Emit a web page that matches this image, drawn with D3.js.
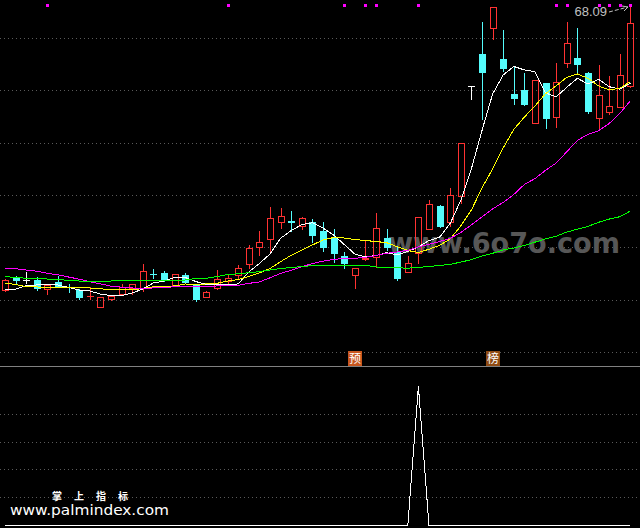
<!DOCTYPE html>
<html><head><meta charset="utf-8">
<script src="https://cdn.jsdelivr.net/npm/d3@7"></script>
<style>html,body{margin:0;padding:0;background:#000;overflow:hidden}</style>
</head><body><svg id="c" width="640" height="528"></svg>
<script>
const opens  = [28.65,30.39,30.09,30.11,28.75,29.70,29.03,28.58,27.85,26.32,27.46,28.09,28.97,28.93,30.88,30.98,29.35,30.70,29.44,27.71,28.89,29.90,30.74,32.23,34.61,35.76,38.18,38.27,37.58,38.20,36.88,35.97,33.39,30.81,32.93,33.25,35.94,33.88,31.20,33.85,37.12,40.37,38.18,41.80,57.15,61.57,65.16,60.87,55.99,56.55,51.99,57.48,52.82,60.27,61.05,58.96,52.60,53.52,54.22,57.11];
const highs  = [30.18,30.60,31.20,30.46,29.35,30.67,29.49,28.72,29.00,27.67,27.95,29.49,29.49,32.28,31.58,31.34,30.88,31.02,29.49,28.51,31.44,30.84,32.14,34.93,36.84,40.23,40.05,39.67,38.87,38.55,38.07,37.12,33.95,31.72,35.48,39.43,37.12,34.69,33.39,38.83,41.20,40.51,42.84,49.16,57.15,65.99,68.06,64.92,59.94,58.96,57.94,57.53,60.36,65.99,65.16,58.99,60.04,58.50,61.57,68.09];
const lows   = [28.51,29.49,29.67,28.58,28.09,29.00,28.41,27.35,27.39,26.28,27.32,28.02,28.09,28.51,30.32,29.97,29.28,29.63,27.16,27.67,28.79,29.35,30.18,31.72,33.60,33.77,37.30,36.88,37.16,35.35,34.13,32.56,31.65,28.89,32.83,31.86,34.23,30.04,31.16,32.46,37.09,37.48,37.58,40.74,55.25,52.46,63.62,59.24,54.60,54.52,51.99,51.29,51.43,59.80,59.10,53.38,51.29,53.16,54.22,56.93];
const closes = [30.04,30.04,30.09,28.86,29.30,29.07,29.02,27.71,27.86,27.63,27.88,29.07,29.44,31.30,30.87,30.04,30.84,29.81,27.35,28.33,30.14,30.39,31.68,34.47,35.39,38.65,38.97,38.07,38.65,36.32,34.65,33.85,32.37,31.68,33.18,37.26,34.69,30.32,32.37,38.79,40.65,37.58,41.90,49.11,57.15,59.10,68.06,59.66,55.48,54.55,57.94,52.68,57.62,63.06,60.18,53.66,55.85,54.32,58.64,65.85];

const ma5  = [28.75,28.75,29.28,29.35,29.35,29.35,29.00,28.65,28.51,28.09,27.85,27.88,28.23,28.79,29.63,29.90,30.42,30.39,29.83,29.42,29.39,29.44,29.49,31.16,32.35,33.67,35.86,36.95,37.76,38.04,37.30,36.32,35.00,33.67,33.25,33.46,33.85,33.53,34.02,34.65,35.55,36.01,37.94,41.16,45.57,50.90,55.99,58.64,59.83,59.34,59.10,56.13,55.61,56.93,58.18,57.39,58.04,57.01,56.65,57.48];
const ma10 = [29.63,29.42,29.11,29.07,29.03,29.03,29.03,29.03,28.93,28.83,28.65,28.65,28.72,28.83,29.11,29.17,29.21,29.49,29.42,29.49,29.58,29.90,30.11,30.53,31.02,31.65,32.60,33.49,34.23,34.93,35.62,35.97,35.90,35.69,35.55,35.41,35.25,34.69,34.16,33.88,34.33,34.89,35.76,37.58,39.81,42.88,45.53,48.47,51.04,52.78,54.32,56.05,57.12,58.32,58.78,58.18,57.11,56.55,56.79,57.71];
const ma20 = [31.68,31.61,31.44,31.26,30.98,30.76,30.46,30.16,29.81,29.50,29.19,29.04,28.93,28.86,28.94,29.04,29.08,29.11,29.11,29.14,29.21,29.21,29.30,29.57,29.78,30.35,30.96,31.40,31.91,32.33,32.67,32.93,33.04,33.07,33.20,33.46,33.77,33.96,34.19,34.65,35.02,35.41,35.86,36.66,37.74,38.83,39.96,40.86,41.97,43.37,44.19,45.35,46.37,47.93,49.53,50.37,50.87,51.88,53.27,55.06];
const ma60 = [30.50,30.42,30.28,30.28,30.18,30.09,30.00,29.90,29.90,29.90,29.90,30.04,30.04,30.04,30.04,30.04,30.04,30.04,30.25,30.28,30.53,30.80,30.91,31.05,31.22,31.43,31.65,31.79,31.91,32.05,32.09,32.09,32.09,32.09,32.09,31.86,31.82,31.75,31.69,31.80,31.93,32.07,32.23,32.54,32.88,33.39,33.77,34.23,34.51,34.87,35.32,35.78,36.15,36.73,37.14,37.52,38.09,38.54,38.87,39.67];

const signalBars = [4,21,32,34,35,39,52,53,56,57,58,59];
const indicator = [0,0,0,0,0,0,0,0,0,0,0,0,0,0,0,0,0,0,0,0,0,0,0,0,0,0,0,0,0,0,0,0,0,0,0,0,0,0,0,5,0,0,0,0,0,0,0,0,0,0,0,0,0,0,0,0,0,0,0,0];
const tagBars = [33,46];
const tagTexts = ["预","榜"];
const priceGrid = [20,27.3,34.6,41.9,49.2,56.5,63.8];
const indGrid = [1,2,3,4];
const watermark = "www.6o7o.com";
const brandCN = "掌上指标";
const brandURL = "www.palmindex.com";

const svg = d3.select("#c");
svg.append("rect").attr("width",640).attr("height",528).attr("fill","#000");

const n = opens.length;
const x = d3.scaleLinear().domain([0, n-1]).range([5, 630.4]);
const y = d3.scaleLinear().domain([20, 63.8]).range([352, 38]);
const yi = d3.scaleLinear().domain([0, 5]).range([525, 386]);
const px = i => Math.round(x(i)) + 0.5;
const py = v => Math.round(y(v));

const RED = "#ff3232", CYAN = "#54fcfc";

// grid
const g = svg.append("g").attr("shape-rendering","crispEdges");
g.selectAll("line.pg").data(priceGrid).join("line").attr("class","pg")
  .attr("x1",0).attr("x2",640).attr("y1",d=>py(d)+0.5).attr("y2",d=>py(d)+0.5)
  .attr("stroke","#5a5a5a").attr("stroke-dasharray","1,3");
g.selectAll("line.ig").data(indGrid).join("line").attr("class","ig")
  .attr("x1",0).attr("x2",640).attr("y1",d=>Math.round(yi(d))+0.5).attr("y2",d=>Math.round(yi(d))+0.5)
  .attr("stroke","#5a5a5a").attr("stroke-dasharray","1,3");
g.append("line").attr("x1",0).attr("x2",640).attr("y1",366.5).attr("y2",366.5).attr("stroke","#808080");

// watermark
svg.append("text").attr("x",388).attr("y",253).attr("font-family","DejaVu Sans").attr("font-weight","bold")
  .attr("font-size",28).attr("fill","#575757").attr("textLength",232).attr("lengthAdjust","spacingAndGlyphs")
  .text(watermark);

// candles
const cg = svg.append("g").attr("shape-rendering","crispEdges");
d3.range(n).forEach(i => {
  const cx = px(i), o = opens[i], c = closes[i];
  const yO = py(o), yC = py(c), yH = py(highs[i]), yL = py(lows[i]);
  const col = c > o ? RED : (c < o ? CYAN : "#ffffff");
  const top = Math.min(yO, yC), bot = Math.max(yO, yC);
  if (bot - top < 1) {
    cg.append("line").attr("x1",cx).attr("x2",cx).attr("y1",yH).attr("y2",yL+1).attr("stroke",col);
    cg.append("line").attr("x1",cx-3.5).attr("x2",cx+3.5).attr("y1",top+0.5).attr("y2",top+0.5).attr("stroke",col);
  } else if (c > o) {
    if (yH < top) cg.append("line").attr("x1",cx).attr("x2",cx).attr("y1",yH).attr("y2",top).attr("stroke",col);
    if (yL > bot) cg.append("line").attr("x1",cx).attr("x2",cx).attr("y1",bot+1).attr("y2",yL+1).attr("stroke",col);
    cg.append("rect").attr("x",cx-3).attr("y",top+0.5).attr("width",6).attr("height",bot-top)
      .attr("fill","none").attr("stroke",col);
  } else {
    cg.append("line").attr("x1",cx).attr("x2",cx).attr("y1",yH).attr("y2",yL+1).attr("stroke",col);
    cg.append("rect").attr("x",cx-3.5).attr("y",top).attr("width",7).attr("height",bot-top+1).attr("fill",col);
  }
});

// moving averages
const lg = svg.append("g").attr("fill","none").attr("shape-rendering","crispEdges");
const line = d3.line().x((d,i)=>x(i)).y(d=>y(d));
[[ma5,"#ffffff"],[ma10,"#ffff00"],[ma20,"#ff00ff"],[ma60,"#00ff00"]].forEach(([arr,col]) => {
  lg.append("path").attr("d", line(arr)).attr("stroke", col).attr("stroke-width",1);
});

// signal dots
svg.append("g").attr("shape-rendering","crispEdges").selectAll("rect").data(signalBars).join("rect")
  .attr("x",d=>Math.round(x(d))-1).attr("y",4).attr("width",3).attr("height",3).attr("fill","#ff00ff");

// max price label
const maxV = d3.max(highs);
const maxI = highs.lastIndexOf(maxV);
const mx = Math.round(x(maxI)), my = py(maxV);
svg.append("text").attr("x", mx-23).attr("y", my+9).attr("text-anchor","end")
  .attr("font-family","Liberation Sans, Arial, sans-serif").attr("font-size",13).attr("fill","#c0c0c0").text(maxV.toFixed(2));
svg.append("line").attr("x1",mx-21).attr("y1",my+5).attr("x2",mx-2).attr("y2",my)
  .attr("stroke","#c0c0c0").attr("stroke-dasharray","4,2");
svg.append("path").attr("d",`M${mx-2},${my} L${mx-8},${my-1} M${mx-2},${my} L${mx-6},${my+4}`)
  .attr("stroke","#c0c0c0").attr("fill","none");

// tags
const tagCols = ["#c8561e","#8e4a12"];
tagBars.forEach((b,k) => {
  const cx = Math.round(x(b));
  svg.append("rect").attr("x",cx-7).attr("y",351).attr("width",14).attr("height",15).attr("fill",tagCols[k]);
  svg.append("text").attr("x",cx).attr("y",363).attr("text-anchor","middle")
    .attr("font-family","Noto Sans CJK SC").attr("font-size",12).attr("fill","#fff").text(tagTexts[k]);
});

// indicator panel
const il = d3.line().x((d,i)=>x(i)).y(d=>Math.round(yi(d))+0.5);
svg.append("path").attr("d", il(indicator)).attr("stroke","#ffffff").attr("fill","none").attr("shape-rendering","crispEdges");

// brand text
svg.append("text").attr("x",52).attr("y",500).attr("font-family","Noto Sans CJK SC").attr("font-weight","bold")
  .attr("font-size",10).attr("letter-spacing",12).attr("fill","#fff").text(brandCN);
svg.append("text").attr("x",10).attr("y",515).attr("font-family","DejaVu Sans").attr("font-size",14.5)
  .attr("fill","#fff").attr("textLength",159).attr("lengthAdjust","spacingAndGlyphs").text(brandURL);
</script>
</body></html>
